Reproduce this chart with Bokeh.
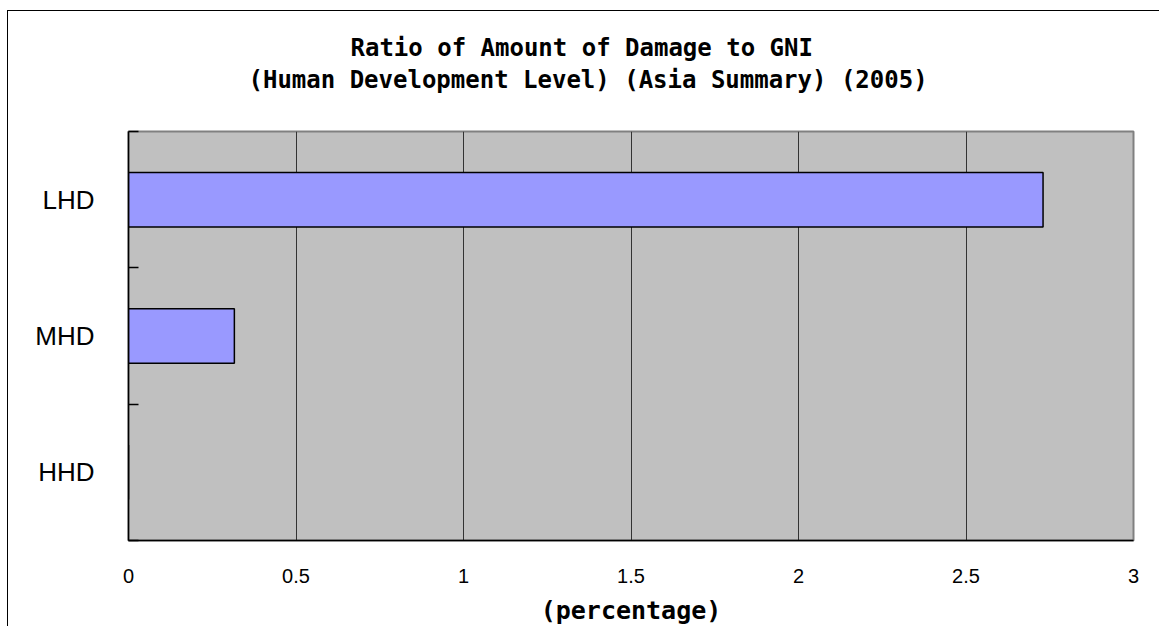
from bokeh.plotting import figure
from bokeh.models import (ColumnDataSource, Range1d, FixedTicker, Title, LinearAxis)
from bokeh.embed import file_html
from bokeh.resources import INLINE

# ---- data ----
categories = ["LHD", "MHD", "HHD"]
values = [2.73, 0.316, 0.0]
x_ticks = [0, 0.5, 1, 1.5, 2, 2.5, 3]
x_tick_labels = ["0", "0.5", "1", "1.5", "2", "2.5", "3"]
title_line1 = "Ratio of Amount of Damage to GNI"
title_line2 = "(Human Development Level) (Asia Summary) (2005)"
x_title = "(percentage)"

n = len(categories)
ypos = [n - i - 0.5 for i in range(n)]
source = ColumnDataSource(dict(cat=categories, value=values, y=ypos))

p = figure(width=1152, height=616, output_backend="svg", toolbar_location=None,
           x_range=Range1d(0, 3), y_range=Range1d(0, n),
           min_border_left=120, min_border_right=27, min_border_top=120,
           min_border_bottom=86)
p.styles = {"border-left": "1px solid #000000", "border-top": "1px solid #000000",
            "margin-top": "10px", "margin-left": "7px"}

p.background_fill_color = "#C0C0C0"
p.border_fill_color = "white"
p.outline_line_color = "#808080"
p.outline_line_width = 2

p.hbar(y="y", right="value", left=0, height=0.4, source=source,
       fill_color="#9999FF", line_color="black", line_width=1.5)

# x axis (bottom)
xa = p.below[0]
xa.ticker = FixedTicker(ticks=x_ticks)
xa.major_label_overrides = {t: l for t, l in zip(x_ticks, x_tick_labels)}
xa.major_label_text_font = "Liberation Sans"
xa.major_label_text_font_size = "20px"
xa.major_label_text_color = "black"
xa.major_label_standoff = 28
xa.major_tick_in = 0
xa.major_tick_out = 0
xa.minor_tick_line_color = None
xa.axis_line_color = "black"
xa.axis_line_width = 1.5
xa.axis_label = x_title
xa.axis_label_text_font = "DejaVu Sans Mono"
xa.axis_label_text_font_size = "25px"
xa.axis_label_text_font_style = "bold"
xa.axis_label_text_color = "black"
xa.axis_label_standoff = 10

# invisible spacer between plot frame and titles (one hidden, unlabeled tick)
spacer = LinearAxis(ticker=FixedTicker(ticks=[1.5]), axis_line_color=None,
                    major_tick_line_color=None, minor_tick_line_color=None,
                    major_tick_in=0, major_tick_out=36, major_label_standoff=0,
                    major_label_overrides={1.5: ""})
p.add_layout(spacer, "above")

# titles (inner first)
t2 = Title(text=title_line2, align="left", offset=120, text_font="DejaVu Sans Mono",
           text_font_size="24px", text_font_style="bold", text_color="black", standoff=4)
t1 = Title(text=title_line1, align="left", offset=222, text_font="DejaVu Sans Mono",
           text_font_size="24px", text_font_style="bold", text_color="black", standoff=0)
p.add_layout(t2, "above")
p.add_layout(t1, "above")

# y axis: labels at category centres, ticks at category boundaries
ya = p.left[0]
ya.ticker = FixedTicker(ticks=ypos, minor_ticks=list(range(n + 1)))
ya.major_label_overrides = {y: c for y, c in zip(ypos, categories)}
ya.major_label_text_font = "Liberation Sans"
ya.major_label_text_font_size = "26px"
ya.major_label_text_color = "black"
ya.major_label_standoff = 34
ya.major_tick_line_color = None
ya.major_tick_in = 0
ya.major_tick_out = 0
ya.minor_tick_in = 10
ya.minor_tick_out = 0
ya.minor_tick_line_color = "black"
ya.minor_tick_line_width = 1.5
ya.axis_line_color = "black"
ya.axis_line_width = 1.5

p.xgrid.ticker = FixedTicker(ticks=x_ticks)
p.xgrid.grid_line_color = "#333333"
p.xgrid.grid_line_width = 1
p.ygrid.grid_line_color = None

open("out.html", "w").write(file_html(p, INLINE))
